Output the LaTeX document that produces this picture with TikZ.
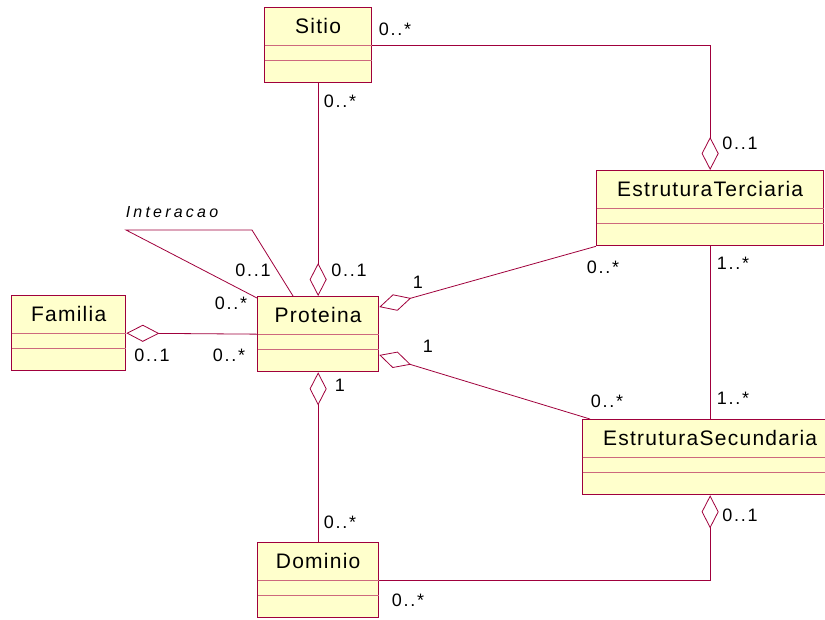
\documentclass[tikz,border=0pt]{standalone}
\usepackage{fontspec}
\setmainfont{Liberation Sans}
\newfontfamily\classfont[LetterSpace=6]{Liberation Sans}
\newfontfamily\multfont[LetterSpace=10]{Liberation Sans}
\newfontfamily\relfont[LetterSpace=20]{Liberation Sans}
\usetikzlibrary{arrows.meta, calc}
\definecolor{umlred}{RGB}{160,0,60}
\definecolor{umlpink}{RGB}{205,105,125}
\definecolor{umlfill}{RGB}{255,255,204}

\begin{document}
\begin{tikzpicture}[x=1pt, y=-1pt,
	classbox/.style={draw=umlred, line width=1.3pt, fill=umlfill, anchor=north west, minimum height=75pt, inner sep=0pt},
	classname/.style={font=\classfont\fontsize{21}{24}\selectfont, inner sep=0pt},
	mult/.style={font=\multfont\fontsize{18}{20}\selectfont, inner sep=0pt},
	assoc/.style={draw=umlred, line width=0.8pt},
	aggr/.style={assoc, {Diamond[length=33pt, width=17pt, fill=white]}-}]
		\clip (0,0) rectangle (825,619);
		\fill[white] (0,0) rectangle (825,619);
		% classes
		\foreach \n/\x/\y/\w in {Sitio/264/7/107pt, Familia/11/295/114pt, Proteina/257/296/121pt, EstruturaTerciaria/596/170/227pt, EstruturaSecundaria/582/419/255pt, Dominio/257/542/121pt} {
			\node[classbox, minimum width=\w] (\n) at (\x,\y) {};
			\node[classname] (\n-name) at ($(\n.north)+(0,19)$) {\n};
			\draw[umlpink, line width=0.8pt] ($(\n.north west)+(0.7,38)$) -- ($(\n.north east)+(-0.7,38)$);
			\draw[umlpink, line width=0.8pt] ($(\n.north west)+(0.7,53)$) -- ($(\n.north east)+(-0.7,53)$);
		}
		% associations
		\draw[aggr] (EstruturaTerciaria.north) |- (Sitio.east);
		\draw[aggr] (Proteina.north) -- (Sitio.south);
		\draw[aggr] (Familia.east) -- (Proteina.west);
		\draw[aggr] ($(Proteina.north east)+(0,11)$) -- (EstruturaTerciaria.south west);
		\draw[aggr] ($(Proteina.north east)+(0,59)$) -- ($(EstruturaSecundaria.north west)+(8,0)$);
		\draw[assoc] (EstruturaTerciaria.south) -- (EstruturaSecundaria.north);
		\draw[aggr] (EstruturaSecundaria.south) |- (Dominio.east);
		\draw[aggr] (Proteina.south) -- (Dominio.north);
		% Interacao
		\coordinate (ia) at (126,230);
		\coordinate (ib) at (252,230);
		\draw[assoc] ($(Proteina.north west)+(0,2)$) -- (ia) -- (ib) -- ($(Proteina.north west)+(36,0)$);
		\node[font=\relfont\itshape\fontsize{16}{18}\selectfont, inner sep=0pt] (interacao) at (172,212) {Interacao};
		% multiplicities
		\foreach \t/\x/\y [count=\i] in {0..*/395/29, 0..*/340/101, 0..1/740/143, 0..1/349/270, 0..1/253/270, 0..*/231/303, 0..1/152/355, 0..*/229/355, 1/418/282, 1/428/346, 0..*/603/267, 1..*/733/263, 0..*/607/401, 1..*/733/398, 0..1/740/515, 1/340/385, 0..*/340/522, 0..*/408/600}
			\node[mult] (m\i) at (\x,\y) {\t};
	\end{tikzpicture}
\end{document}
